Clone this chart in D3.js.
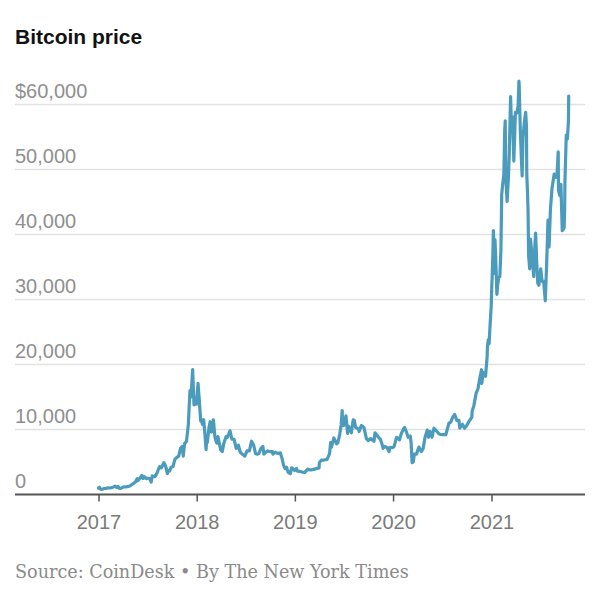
<!DOCTYPE html>
<html>
<head>
<meta charset="utf-8">
<script src="https://cdn.jsdelivr.net/npm/d3@7"></script>
<style>
  html, body { margin: 0; padding: 0; background: #fff; }
  svg { display: block; }
</style>
</head>
<body>
<svg id="chart" width="600" height="600"></svg>
<script>
// ---- Data ----
const dates = [
"2017-01-01","2017-01-04","2017-01-06","2017-01-11","2017-01-15","2017-01-22","2017-01-29","2017-02-05","2017-02-12","2017-02-19","2017-02-26",
"2017-03-03","2017-03-10","2017-03-15","2017-03-18","2017-03-24","2017-03-31","2017-04-07","2017-04-14","2017-04-21","2017-04-28",
"2017-05-05","2017-05-12","2017-05-19","2017-05-25","2017-05-27","2017-06-04","2017-06-11","2017-06-15","2017-06-20","2017-06-27",
"2017-07-02","2017-07-09","2017-07-16","2017-07-20","2017-07-30","2017-08-06","2017-08-13","2017-08-17","2017-08-22","2017-08-26",
"2017-09-01","2017-09-08","2017-09-14","2017-09-17","2017-09-22","2017-09-28","2017-10-05","2017-10-12","2017-10-19","2017-10-26",
"2017-11-02","2017-11-08","2017-11-12","2017-11-17","2017-11-24","2017-11-29","2017-12-01","2017-12-07","2017-12-10","2017-12-13",
"2017-12-17","2017-12-22","2017-12-25","2017-12-28","2017-12-31",
"2018-01-06","2018-01-10","2018-01-16","2018-01-19","2018-01-22","2018-01-27","2018-02-01","2018-02-05","2018-02-06","2018-02-10",
"2018-02-15","2018-02-20","2018-02-25","2018-03-04","2018-03-10","2018-03-14","2018-03-17","2018-03-21","2018-03-31","2018-04-06",
"2018-04-12","2018-04-20","2018-04-25","2018-05-05","2018-05-12","2018-05-20","2018-05-28","2018-06-05","2018-06-12","2018-06-23",
"2018-06-29","2018-07-07","2018-07-16","2018-07-24","2018-07-31","2018-08-08","2018-08-14","2018-08-20","2018-08-28","2018-09-04",
"2018-09-08","2018-09-15","2018-09-21","2018-09-30","2018-10-10","2018-10-11","2018-10-20","2018-10-31","2018-11-08","2018-11-14",
"2018-11-20","2018-11-25","2018-12-01","2018-12-07","2018-12-15","2018-12-20","2018-12-24","2018-12-31",
"2019-01-07","2019-01-10","2019-01-20","2019-01-28","2019-02-07","2019-02-18","2019-02-24","2019-03-05","2019-03-15","2019-04-01",
"2019-04-02","2019-04-10","2019-04-20","2019-05-01","2019-05-10","2019-05-14","2019-05-17","2019-05-26","2019-06-05","2019-06-10",
"2019-06-17","2019-06-22","2019-06-26","2019-06-27","2019-07-01","2019-07-10","2019-07-16","2019-07-20","2019-07-30","2019-08-06",
"2019-08-10","2019-08-15","2019-08-25","2019-08-28","2019-09-05","2019-09-15","2019-09-24","2019-10-01","2019-10-10","2019-10-22",
"2019-10-26","2019-11-01","2019-11-08","2019-11-15","2019-11-22","2019-11-25","2019-12-01","2019-12-10","2019-12-17","2019-12-20",
"2019-12-31",
"2020-01-05","2020-01-14","2020-01-20","2020-01-25","2020-02-01","2020-02-09","2020-02-13","2020-02-20","2020-02-26","2020-03-05",
"2020-03-08","2020-03-12","2020-03-16","2020-03-20","2020-03-28","2020-04-06","2020-04-15","2020-04-22","2020-04-29","2020-05-07",
"2020-05-12","2020-05-18","2020-05-25","2020-06-01","2020-06-10","2020-06-20","2020-07-01","2020-07-15","2020-07-27","2020-08-02",
"2020-08-10","2020-08-17","2020-08-25","2020-09-02","2020-09-05","2020-09-15","2020-09-23","2020-10-01","2020-10-10","2020-10-20",
"2020-10-21","2020-10-27","2020-11-05","2020-11-12","2020-11-18","2020-11-25","2020-11-26","2020-12-01","2020-12-10","2020-12-16",
"2020-12-17","2020-12-20","2020-12-23","2020-12-27","2020-12-31",
"2021-01-02","2021-01-03","2021-01-06","2021-01-08","2021-01-10","2021-01-11","2021-01-14","2021-01-17","2021-01-21","2021-01-24",
"2021-01-28","2021-02-01","2021-02-05","2021-02-08","2021-02-12","2021-02-16","2021-02-19","2021-02-21","2021-02-23","2021-02-28",
"2021-03-05","2021-03-08","2021-03-13","2021-03-16","2021-03-20","2021-03-25","2021-03-31","2021-04-05","2021-04-10","2021-04-13",
"2021-04-14","2021-04-18","2021-04-22","2021-04-25","2021-04-28","2021-05-03","2021-05-08","2021-05-11","2021-05-12","2021-05-15",
"2021-05-17","2021-05-19","2021-05-23","2021-05-26","2021-06-01","2021-06-07","2021-06-10","2021-06-14","2021-06-18","2021-06-22",
"2021-06-26","2021-07-03","2021-07-08","2021-07-14","2021-07-20","2021-07-25","2021-07-30","2021-08-03","2021-08-08","2021-08-14",
"2021-08-22","2021-08-29","2021-09-01","2021-09-06","2021-09-07","2021-09-12","2021-09-16","2021-09-21","2021-09-28","2021-09-30",
"2021-10-01","2021-10-06","2021-10-10","2021-10-14","2021-10-15"
];
const prices = [
1000,1130,900,780,820,920,920,1030,1000,1050,1170,
1280,1100,1250,970,940,1080,1190,1180,1240,1320,
1550,1720,1970,2450,2100,2500,2950,2450,2750,2450,
2500,2500,1930,2850,2750,3250,4000,4300,4100,4350,
4900,4300,3200,3700,3600,4200,4300,5400,5700,5900,
7100,7400,5900,7800,8200,10000,10800,16000,15000,16500,
19200,13800,14000,14300,13900,
17100,14900,11300,11500,10800,11500,9100,6900,7700,8100,
10100,11200,9600,11500,8800,8200,7900,8900,6900,6600,
7900,8900,8800,9800,8500,8500,7100,7600,6500,6100,
5900,6700,6700,8200,7700,6300,6200,6300,7100,7400,
6200,6500,6700,6600,6600,6200,6500,6300,6400,5600,
4500,4000,4200,3400,3200,4100,4050,3700,
4000,3600,3550,3450,3400,3900,3800,3800,3900,4100,
4900,5300,5300,5400,6300,8000,7300,8700,7800,8000,
9300,10700,12900,11200,10600,12100,9400,10500,9500,11500,
11400,10300,10100,9700,10600,10300,8600,8300,8600,8200,
9500,9200,8800,8500,7600,7100,7400,7200,6600,7200,
7200,
7400,8800,8600,8400,9400,10100,10300,9600,8800,9000,
8000,4900,5000,6200,6200,7300,6600,7100,8800,9900,
8800,9700,8800,10200,9800,9300,9200,9200,11000,11100,
11900,12300,11400,11400,10200,10800,10200,10600,11300,11900,
12800,13600,15600,16300,17800,19200,17100,18800,18200,21300,
22800,23800,23200,26300,29000,
32000,32900,36800,40600,38200,34000,39200,36000,30800,32300,
33400,33500,37600,46200,47900,49200,55900,57500,48800,45100,
48900,52400,61200,56900,58100,51300,58800,58700,59800,63600,
62900,56200,51700,49000,54900,57200,58800,56700,49400,46400,
43500,36700,34700,39300,36700,33500,37300,40200,35800,32500,
32200,34700,32800,32800,29800,35400,42200,38100,43800,47100,
49300,48800,48800,52700,46800,46000,47700,40600,41000,43800,
48100,55300,54700,57400,61300
];
const yTicks = [0, 10000, 20000, 30000, 40000, 50000, 60000];
const yTickLabels = ["0", "10,000", "20,000", "30,000", "40,000", "50,000", "$60,000"];
const xTicks = ["2017-01-01", "2018-01-01", "2019-01-01", "2020-01-01", "2021-01-01"];
const xTickLabels = ["2017", "2018", "2019", "2020", "2021"];
const title = "Bitcoin price";
const source = "Source: CoinDesk \u2022 By The New York Times";

// ---- Chart ----
const parse = d3.utcParse("%Y-%m-%d");
const data = dates.map((d, i) => ({ date: parse(d), value: prices[i] }));

const svg = d3.select("#chart");
const left = 15, right = 585;

const x = d3.scaleUtc()
  .domain([parse("2017-01-01"), parse("2021-01-01")])
  .range([98.5, 491.5]);
const y = d3.scaleLinear()
  .domain([0, 60000])
  .range([494.5, 104.5]);

const sans = "'Liberation Sans', Arial, sans-serif";

// title
svg.append("text")
  .attr("x", left).attr("y", 44)
  .attr("font-family", sans)
  .attr("font-weight", "bold")
  .attr("font-size", 21)
  .attr("fill", "#121212")
  .text(title);

// gridlines + y labels
const yg = svg.append("g");
yTicks.forEach((t, i) => {
  if (t !== 0) {
    yg.append("line")
      .attr("x1", left).attr("x2", right)
      .attr("y1", y(t)).attr("y2", y(t))
      .attr("stroke", "#e2e2e2")
      .attr("stroke-width", 1.5);
  }
  yg.append("text")
    .attr("x", left).attr("y", y(t) - 6.5)
    .attr("font-family", sans)
    .attr("font-size", 20)
    .attr("fill", "#8f8f8f")
    .text(yTickLabels[i]);
});

// x axis
const xAxis = d3.axisBottom(x)
  .tickValues(xTicks.map(parse))
  .tickFormat((d, i) => xTickLabels[i])
  .tickSize(7)
  .tickPadding(13);
const xg = svg.append("g")
  .attr("transform", `translate(0,${y(0)})`)
  .call(xAxis);
xg.select(".domain").remove();
xg.selectAll(".tick line").attr("stroke", "#555").attr("stroke-width", 1.5);
xg.selectAll(".tick text")
  .attr("font-family", sans)
  .attr("font-size", 20)
  .attr("fill", "#7a7a7a");

// line
const line = d3.line()
  .x(d => x(d.date))
  .y(d => y(d.value))
  .curve(d3.curveLinear);
svg.append("path")
  .datum(data)
  .attr("d", line)
  .attr("fill", "none")
  .attr("stroke", "#4b9bbd")
  .attr("stroke-width", 3.2)
  .attr("stroke-linejoin", "round")
  .attr("stroke-linecap", "round");

// baseline axis
svg.append("line")
  .attr("x1", left).attr("x2", right)
  .attr("y1", y(0)).attr("y2", y(0))
  .attr("stroke", "#555")
  .attr("stroke-width", 2);

// source
svg.append("text")
  .attr("x", left).attr("y", 578)
  .attr("font-family", "'DejaVu Serif', Georgia, serif")
  .attr("font-size", 17.6)
  .attr("fill", "#8a8a8a")
  .text(source);
</script>
</body>
</html>
